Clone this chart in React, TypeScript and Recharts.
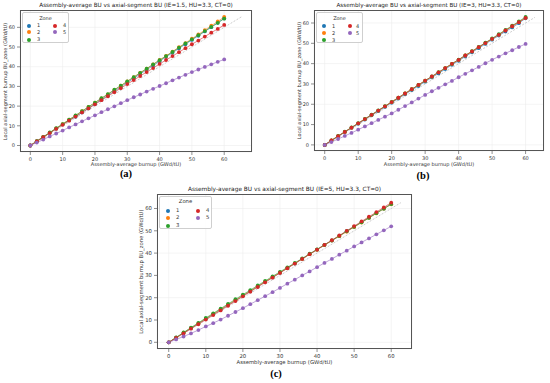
import React from "react";
import { ComposedChart, Line, XAxis, YAxis, CartesianGrid, ReferenceLine } from "recharts";

const XS = [0, 2, 4, 6, 8, 10, 12, 14, 16, 18, 20, 22, 24, 26, 28, 30, 32, 34, 36, 38, 40, 42, 44, 46, 48, 50, 52, 54, 56, 58, 60];
const TICKS = [0, 10, 20, 30, 40, 50, 60];
const ZONES = ["1", "2", "3", "4", "5"];
const COLORS = ["#1f77b4", "#ff7f0e", "#2ca02c", "#d62728", "#9467bd"];

// Panel (a) IE=1.5
const A_Z1 = [0, 2.2, 4.3, 6.4, 8.6, 10.7, 12.8, 14.6, 16.8, 18.9, 21.1, 23.3, 25.4, 27.6, 29.8, 32.0, 34.1, 36.3, 38.5, 40.6, 42.8, 45.0, 47.1, 49.3, 51.4, 53.6, 55.7, 57.9, 60.1, 62.3, 64.6];
const A_Z2 = [0, 2.2, 4.4, 6.5, 8.7, 10.9, 13.1, 15.2, 17.4, 19.6, 21.7, 23.9, 26.0, 28.2, 30.4, 32.5, 34.7, 36.9, 39.0, 41.2, 43.4, 45.5, 47.7, 49.9, 52.0, 54.2, 56.4, 58.6, 60.8, 63.0, 65.3];
const A_Z3 = [0, 2.2, 4.4, 6.6, 8.8, 10.9, 13.1, 15.3, 17.5, 19.6, 21.8, 24.0, 26.1, 28.3, 30.4, 32.6, 34.7, 36.9, 39.0, 41.2, 43.3, 45.4, 47.5, 49.7, 51.8, 53.9, 56.0, 58.1, 60.2, 62.3, 64.4];
const A_Z4 = [0, 2.1, 4.2, 6.3, 8.4, 10.5, 12.6, 14.7, 16.8, 18.8, 20.9, 23.0, 25.0, 27.1, 29.1, 31.2, 33.2, 35.3, 37.3, 39.3, 41.4, 43.4, 45.4, 47.4, 49.4, 51.4, 53.3, 55.3, 57.3, 59.2, 61.2];
const A_Z5 = [0, 1.5, 3.0, 4.6, 6.1, 7.6, 9.2, 10.7, 12.3, 13.8, 15.3, 16.9, 18.4, 19.9, 21.5, 23.0, 24.5, 25.9, 27.4, 28.8, 30.2, 31.6, 33.1, 34.5, 35.9, 37.3, 38.6, 39.9, 41.2, 42.5, 43.7];

// Panel (b) IE=3
const B_Z1 = [0, 2.1, 4.2, 6.3, 8.4, 10.4, 12.5, 14.6, 16.6, 18.7, 20.8, 22.8, 24.9, 27.0, 29.0, 31.1, 33.2, 35.2, 37.3, 39.4, 41.4, 43.5, 45.6, 47.6, 49.7, 51.8, 53.8, 55.8, 57.8, 59.9, 62.3];
const B_Z2 = [0, 2.2, 4.3, 6.4, 8.5, 10.6, 12.7, 14.8, 16.9, 19.0, 21.1, 23.2, 25.3, 27.4, 29.5, 31.6, 33.6, 35.7, 37.8, 39.9, 41.9, 44.0, 46.0, 48.1, 50.2, 52.2, 54.3, 56.4, 58.4, 60.5, 62.6];
const B_Z3 = [0, 2.2, 4.4, 6.5, 8.6, 10.7, 12.8, 14.9, 17.0, 19.1, 21.2, 23.3, 25.4, 27.4, 29.5, 31.6, 33.7, 35.8, 37.8, 39.9, 42.0, 44.1, 46.1, 48.2, 50.3, 52.4, 54.5, 56.6, 58.7, 60.8, 63.0];
const B_Z4 = [0, 2.2, 4.3, 6.4, 8.5, 10.6, 12.7, 14.8, 16.9, 19.0, 21.1, 23.2, 25.3, 27.4, 29.5, 31.6, 33.7, 35.7, 37.8, 39.9, 41.9, 44.0, 46.0, 48.1, 50.1, 52.2, 54.2, 56.3, 58.4, 60.4, 62.5];
const B_Z5 = [0, 1.4, 2.9, 4.4, 5.9, 7.5, 9.1, 10.7, 12.3, 13.9, 15.5, 17.3, 19.1, 20.9, 22.8, 24.6, 26.4, 28.1, 29.8, 31.5, 33.3, 35.0, 36.7, 38.4, 40.2, 41.9, 43.5, 45.1, 46.6, 48.2, 49.7];

// Panel (c) IE=5
const C_Z1 = [0, 2.1, 4.2, 6.3, 8.4, 10.5, 12.6, 14.6, 16.7, 18.8, 20.9, 22.9, 25.0, 27.1, 29.1, 31.2, 33.3, 35.3, 37.4, 39.5, 41.5, 43.6, 45.6, 47.7, 49.8, 51.8, 53.9, 55.9, 58.0, 60.0, 62.0];
const C_Z2 = [0, 2.1, 4.3, 6.4, 8.5, 10.6, 12.7, 14.8, 16.9, 18.9, 21.0, 23.1, 25.1, 27.2, 29.2, 31.3, 33.3, 35.4, 37.4, 39.5, 41.5, 43.6, 45.6, 47.6, 49.6, 51.7, 53.7, 55.8, 57.8, 59.9, 61.9];
const C_Z3 = [0, 2.2, 4.4, 6.6, 8.7, 10.9, 13.0, 15.1, 17.2, 19.3, 21.4, 23.4, 25.5, 27.5, 29.6, 31.6, 33.6, 35.6, 37.6, 39.7, 41.7, 43.7, 45.7, 47.7, 49.8, 51.8, 53.8, 55.8, 57.9, 59.9, 62.0];
const C_Z4 = [0, 2.0, 4.0, 6.1, 8.1, 10.2, 12.2, 14.3, 16.4, 18.5, 20.6, 22.7, 24.8, 26.9, 29.0, 31.1, 33.2, 35.3, 37.4, 39.5, 41.6, 43.7, 45.8, 47.9, 50.0, 52.1, 54.2, 56.3, 58.4, 60.5, 62.6];
const C_Z5 = [0, 1.3, 2.6, 4.0, 5.5, 7.1, 8.6, 10.2, 11.9, 13.6, 15.3, 17.1, 18.9, 20.7, 22.5, 24.4, 26.3, 28.1, 30.0, 31.8, 33.7, 35.6, 37.4, 39.3, 41.1, 43.0, 44.8, 46.6, 48.4, 50.2, 52.0];

const FONT = "'DejaVu Sans', sans-serif";
const X_LABEL = "Assembly-average burnup (GWd/tU)";
const Y_LABEL = "Local axial-segment burnup BU_zone (GWd/tU)";

function buildRows(series: number[][]) {
  return XS.map((x, i) => {
    const row: Record<string, number> = { x };
    series.forEach((s, k) => {
      row["z" + (k + 1)] = s[i];
    });
    return row;
  });
}

type LegendCfg = {
  left: number; top: number; w: number; h: number;
  titleY: number; rows: number[]; c1m: number; c1t: number; c2m: number; c2t: number; fs: number;
};

type PanelCfg = {
  frame: { left: number; top: number; right: number; bottom: number };
  xDomain: [number, number];
  yDomain: [number, number];
  diagEnd: number;
  series: number[][];
  title: string;
  titleY: number;
  titleFs: number;
  letter: string;
  letterX: number;
  letterY: number;
  xLabelY: number;
  yLabelX: number;
  legend: LegendCfg;
  tickFs: number;
  labelFs: number;
};

function Legend5({ cfg }: { cfg: LegendCfg }) {
  const pos = [
    { col: 0, row: 0 }, { col: 0, row: 1 }, { col: 0, row: 2 },
    { col: 1, row: 0 }, { col: 1, row: 1 },
  ];
  return (
    <div style={{ position: "absolute", left: cfg.left, top: cfg.top, width: cfg.w, height: cfg.h, border: "0.7px solid #cfcfcf", borderRadius: 2, background: "rgba(255,255,255,0.85)", boxSizing: "border-box", fontFamily: FONT, fontSize: cfg.fs, color: "#333" }}>
      <div style={{ position: "absolute", left: 0, width: "100%", top: cfg.titleY - cfg.fs / 2 - 1, textAlign: "center", lineHeight: cfg.fs + 2 + "px" }}>Zone</div>
      {ZONES.map((z, i) => {
        const p = pos[i];
        const mx = p.col === 0 ? cfg.c1m : cfg.c2m;
        const tx = p.col === 0 ? cfg.c1t : cfg.c2t;
        const y = cfg.rows[p.row];
        return (
          <React.Fragment key={z}>
            <div style={{ position: "absolute", left: mx - 2, top: y - 2, width: 4, height: 4, borderRadius: 2, background: COLORS[i] }} />
            <div style={{ position: "absolute", left: tx - 2, top: y - cfg.fs / 2 - 1, lineHeight: cfg.fs + 2 + "px" }}>{z}</div>
          </React.Fragment>
        );
      })}
    </div>
  );
}

function Panel({ cfg }: { cfg: PanelCfg }) {
  const yW = 20;
  const xH = 14;
  const f = cfg.frame;
  const fw = f.right - f.left;
  const fh = f.bottom - f.top;
  const data = buildRows(cfg.series);
  const cx = (f.left + f.right) / 2;
  const cy = (f.top + f.bottom) / 2;
  return (
    <>
      <div style={{ position: "absolute", left: f.left - yW, top: f.top }}>
        <ComposedChart width={fw + yW + 1} height={fh + xH} data={data} margin={{ top: 0, right: 1, bottom: 0, left: 0 }}>
          <CartesianGrid stroke="#ececec" strokeWidth={0.6} />
          <XAxis dataKey="x" type="number" domain={cfg.xDomain} allowDataOverflow ticks={TICKS} height={xH}
            tick={{ fontSize: cfg.tickFs, fill: "#333", fontFamily: FONT }} tickSize={3} tickLine={{ stroke: "#444", strokeWidth: 0.6 }} axisLine={false} />
          <YAxis type="number" domain={cfg.yDomain} allowDataOverflow ticks={TICKS} width={yW}
            tick={{ fontSize: cfg.tickFs, fill: "#333", fontFamily: FONT }} tickSize={3} tickLine={{ stroke: "#444", strokeWidth: 0.6 }} axisLine={false} />
          <ReferenceLine segment={[{ x: 0, y: 0 }, { x: cfg.diagEnd, y: cfg.diagEnd }]} stroke="#aaaaaa" strokeWidth={0.6} strokeDasharray="2 1.5" ifOverflow="visible" />
          {ZONES.map((z, i) => (
            <Line key={z} dataKey={"z" + (i + 1)} stroke={COLORS[i]} strokeWidth={0.6} isAnimationActive={false}
              dot={{ r: 1.9, fill: COLORS[i], stroke: "none" }} activeDot={false} />
          ))}
        </ComposedChart>
      </div>
      <div style={{ position: "absolute", left: f.left, top: f.top, width: fw, height: fh, border: "0.8px solid #555", boxSizing: "border-box", pointerEvents: "none" }} />
      <Legend5 cfg={cfg.legend} />
      <div style={{ position: "absolute", left: cx - 150, width: 300, top: cfg.titleY - cfg.titleFs / 2 - 1, textAlign: "center", fontFamily: FONT, fontSize: cfg.titleFs, color: "#222", lineHeight: cfg.titleFs + 2 + "px", whiteSpace: "nowrap" }}>{cfg.title}</div>
      <div style={{ position: "absolute", left: cx - 100, width: 200, top: cfg.xLabelY - cfg.labelFs / 2 - 1, textAlign: "center", fontFamily: FONT, fontSize: cfg.labelFs, color: "#333", lineHeight: cfg.labelFs + 2 + "px", whiteSpace: "nowrap" }}>{X_LABEL}</div>
      <div style={{ position: "absolute", left: cfg.yLabelX - 100, width: 200, top: cy - cfg.labelFs / 2 - 1, textAlign: "center", fontFamily: FONT, fontSize: cfg.labelFs, color: "#333", lineHeight: cfg.labelFs + 2 + "px", whiteSpace: "nowrap", transform: "rotate(-90deg)" }}>{Y_LABEL}</div>
      <div style={{ position: "absolute", left: cfg.letterX - 20, width: 40, top: cfg.letterY - 6, textAlign: "center", fontFamily: "'Liberation Serif', serif", fontWeight: "bold", fontSize: 10.5, lineHeight: "12px", color: "#000" }}>{cfg.letter}</div>
    </>
  );
}

const PANELS: PanelCfg[] = [
  {
    frame: { left: 20, top: 10, right: 252, bottom: 152 },
    xDomain: [-3.2, 68.6], yDomain: [-3.3, 68.8], diagEnd: 65.3,
    series: [A_Z1, A_Z2, A_Z3, A_Z4, A_Z5],
    title: "Assembly-average BU vs axial-segment BU (IE=1.5, HU=3.3, CT=0)", titleY: 5.5, titleFs: 5.7,
    letter: "(a)", letterX: 126, letterY: 174, xLabelY: 164, yLabelX: 5,
    legend: { left: 22, top: 12, w: 47, h: 31, titleY: 5, rows: [12.5, 19, 26.5], c1m: 6, c1t: 16, c2m: 32, c2t: 42, fs: 5 },
    tickFs: 5, labelFs: 5,
  },
  {
    frame: { left: 314, top: 10, right: 544, bottom: 151 },
    xDomain: [-3.2, 65.5], yDomain: [-3.0, 66.4], diagEnd: 62.8,
    series: [B_Z1, B_Z2, B_Z3, B_Z4, B_Z5],
    title: "Assembly-average BU vs axial-segment BU (IE=3, HU=3.3, CT=0)", titleY: 5.5, titleFs: 5.6,
    letter: "(b)", letterX: 423, letterY: 176, xLabelY: 164, yLabelX: 299,
    legend: { left: 316, top: 12, w: 47, h: 31, titleY: 5, rows: [13, 20, 27], c1m: 7, c1t: 17, c2m: 33, c2t: 41, fs: 5 },
    tickFs: 5, labelFs: 5,
  },
  {
    frame: { left: 157, top: 194, right: 412, bottom: 349 },
    xDomain: [-3.16, 65.6], yDomain: [-3.0, 66.5], diagEnd: 62.6,
    series: [C_Z1, C_Z2, C_Z3, C_Z4, C_Z5],
    title: "Assembly-average BU vs axial-segment BU (IE=5, HU=3.3, CT=0)", titleY: 190, titleFs: 5.85,
    letter: "(c)", letterX: 276, letterY: 374, xLabelY: 362.5, yLabelX: 142,
    legend: { left: 159, top: 196, w: 53, h: 33, titleY: 5, rows: [14, 21, 29], c1m: 8, c1t: 18, c2m: 38, c2t: 48, fs: 5.3 },
    tickFs: 5.3, labelFs: 5.3,
  },
];

export default function App() {
  return (
    <div style={{ position: "absolute", left: 0, top: 0, width: 550, height: 383, background: "#fff", overflow: "hidden" }}>
      {PANELS.map((p, i) => (
        <Panel key={i} cfg={p} />
      ))}
    </div>
  );
}
